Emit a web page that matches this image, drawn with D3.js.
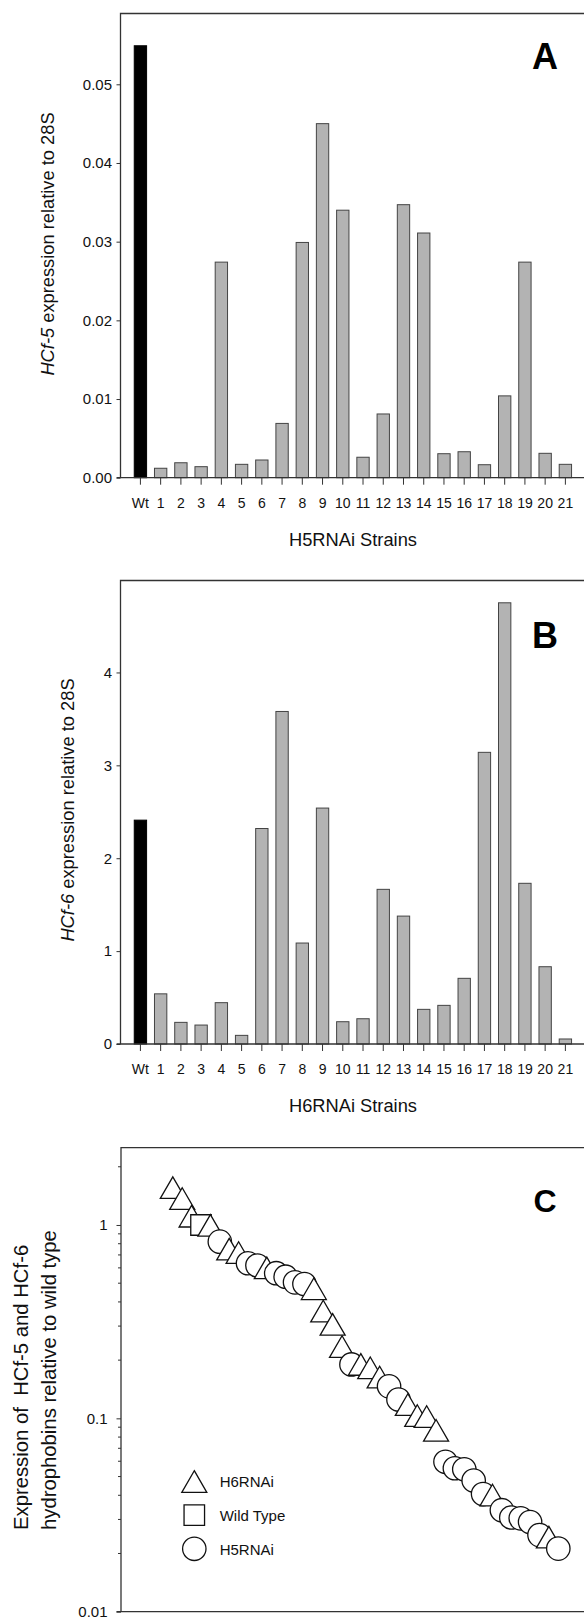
<!DOCTYPE html>
<html>
<head>
<meta charset="utf-8">
<script src="https://cdn.jsdelivr.net/npm/d3@7"></script>
<style>
  body { margin: 0; background: #fff; }
  svg { display: block; font-family: "Liberation Sans", Arial, sans-serif; }
</style>
</head>
<body>
<svg id="chart" width="584" height="1617"></svg>
<script>
// ----- DATA -----
var strains = ["Wt", "1", "2", "3", "4", "5", "6", "7", "8", "9", "10",
               "11", "12", "13", "14", "15", "16", "17", "18", "19", "20", "21"];

// panel A: HCf-5 expression relative to 28S (H5RNAi strains)
var h5Expr = [0.0549, 0.0012, 0.0019, 0.0014, 0.0274, 0.0017, 0.00225, 0.0069,
              0.0299, 0.0450, 0.0340, 0.0026, 0.0081, 0.0347, 0.0311, 0.00305,
              0.0033, 0.00165, 0.0104, 0.0274, 0.0031, 0.0017];
var aTicks = [0, 0.01, 0.02, 0.03, 0.04, 0.05];

// panel B: HCf-6 expression relative to 28S (H6RNAi strains)
var h6Expr = [2.41, 0.54, 0.233, 0.204, 0.445, 0.093, 2.32, 3.58,
              1.087, 2.54, 0.24, 0.272, 1.665, 1.377, 0.373, 0.416,
              0.707, 3.14, 4.75, 1.73, 0.832, 0.054];
var bTicks = [0, 1, 2, 3, 4];

// panel C: expression relative to wild type, in rank order
var cGroups = ["H6", "H6", "H6", "WT", "H6", "H5", "H6", "H6", "H5", "H5",
               "H6", "H5", "H5", "H5", "H5", "H6", "H6", "H6", "H6", "H5",
               "H6", "H6", "H6", "H5", "H5", "H6", "H6", "H6", "H6", "H5",
               "H5", "H5", "H5", "H5", "H6", "H5", "H5", "H5", "H5", "H5",
               "H6", "H5"];
var cValues = [1.56, 1.37, 1.11, 1.0, 0.995, 0.82, 0.75, 0.72, 0.634, 0.617,
               0.60, 0.563, 0.540, 0.505, 0.495, 0.468, 0.359, 0.306, 0.235, 0.190,
               0.190, 0.1825, 0.1635, 0.1464, 0.1251, 0.1178, 0.1034, 0.1022, 0.0867, 0.0596,
               0.0552, 0.0545, 0.0477, 0.0406, 0.0401, 0.0335, 0.0307, 0.0304, 0.0291, 0.0249,
               0.0243, 0.0212];
var cTicks = [0.01, 0.1, 1];
var legendKeys = ["H6", "WT", "H5"];
var legendLabels = ["H6RNAi", "Wild Type", "H5RNAi"];

// ----- LAYOUT -----
var svg = d3.select("#chart");
var frameLeft = 120.5, frameRight = 584;
var ink = "#333";

var x = d3.scaleBand()
    .domain(strains)
    .range([130.3, 575.5])
    .paddingInner(0.39)
    .paddingOuter(0.195);

function barPanel(p) {
    var g = svg.append("g");
    var y = d3.scaleLinear().domain([0, p.yMax]).range([p.bottom, p.top]);

    // left + top frame
    g.append("path")
        .attr("d", "M" + frameLeft + "," + p.bottom + "V" + p.top + "H" + frameRight)
        .attr("fill", "none")
        .attr("stroke", ink)
        .attr("stroke-width", 1.3);

    g.selectAll("rect.bar").data(p.values).join("rect")
        .attr("class", "bar")
        .attr("x", function(d, i) { return x(strains[i]); })
        .attr("width", x.bandwidth())
        .attr("y", function(d) { return y(d); })
        .attr("height", function(d) { return p.bottom - y(d); })
        .attr("fill", function(d, i) { return i == 0 ? "#000" : "#b3b3b3"; })
        .attr("stroke", function(d, i) { return i == 0 ? "#000" : "#444"; })
        .attr("stroke-width", 1);

    var ya = g.append("g")
        .attr("transform", "translate(" + frameLeft + ",0)")
        .call(d3.axisLeft(y).tickValues(p.ticks).tickFormat(p.fmt).tickSize(4).tickPadding(4.5));
    ya.select(".domain").remove();
    ya.attr("font-size", 15).attr("font-family", null).attr("color", ink);
    ya.selectAll("text").attr("fill", "#111");

    var xa = g.append("g")
        .attr("transform", "translate(0," + p.bottom + ")")
        .call(d3.axisBottom(x).tickSize(7).tickPadding(13.5).tickSizeOuter(0));
    xa.select(".domain").remove();
    xa.attr("font-size", 14).attr("font-family", null).attr("color", ink);
    xa.selectAll("text").attr("fill", "#111");

    g.append("line")
        .attr("x1", 116.6).attr("x2", frameRight)
        .attr("y1", p.bottom).attr("y2", p.bottom)
        .attr("stroke", ink).attr("stroke-width", 1.3);

    var yl = g.append("text")
        .attr("transform", "translate(" + p.labelX + "," + p.labelY + ") rotate(-90)")
        .attr("text-anchor", "middle")
        .attr("font-size", 18.3)
        .attr("fill", "#111");
    yl.append("tspan").attr("font-style", "italic").text(p.gene);
    yl.append("tspan").text(" expression relative to 28S");

    g.append("text")
        .attr("x", 353).attr("y", p.bottom + 67.8)
        .attr("text-anchor", "middle")
        .attr("font-size", 18.3)
        .attr("fill", "#111")
        .text(p.title);

    g.append("text")
        .attr("x", 545).attr("y", p.letterY)
        .attr("text-anchor", "middle")
        .attr("font-size", 36)
        .attr("font-weight", "bold")
        .attr("fill", "#000")
        .text(p.letter);
}

barPanel({
    values: h5Expr, top: 13.5, bottom: 477.7, yMax: 0.059,
    ticks: aTicks, fmt: d3.format(".2f"),
    gene: "HCf-5", labelX: 53.5, labelY: 244,
    title: "H5RNAi Strains", letter: "A", letterY: 69.3
});

barPanel({
    values: h6Expr, top: 580.5, bottom: 1044, yMax: 4.99,
    ticks: bTicks, fmt: d3.format("d"),
    gene: "HCf-6", labelX: 74, labelY: 810,
    title: "H6RNAi Strains", letter: "B", letterY: 648.3
});

// ----- PANEL C -----
var cTop = 1147.7, cBottom = 1611.7, cLeft = 121;
var yC = d3.scaleLog().domain([0.01, 2.51]).range([cBottom, cTop]);
var xC = d3.scaleLinear().domain([0, cValues.length - 1]).range([172.8, 558.3]);

var gc = svg.append("g");
gc.append("path")
    .attr("d", "M" + cLeft + "," + cBottom + "V" + cTop + "H" + frameRight)
    .attr("fill", "none").attr("stroke", ink).attr("stroke-width", 1.3);
gc.append("line")
    .attr("x1", 116.5).attr("x2", frameRight)
    .attr("y1", cBottom).attr("y2", cBottom)
    .attr("stroke", ink).attr("stroke-width", 1.3);

var yca = gc.append("g")
    .attr("transform", "translate(" + cLeft + ",0)")
    .call(d3.axisLeft(yC).tickValues(cTicks).tickFormat(d3.format("~g")).tickSize(4.5).tickPadding(9));
yca.select(".domain").remove();
yca.attr("font-size", 15).attr("font-family", null).attr("color", ink);
yca.selectAll("text").attr("fill", "#111");

// minor log ticks
var minor = yC.ticks().filter(function(t) { return cTicks.indexOf(t) < 0; });
gc.selectAll("line.minor").data(minor).join("line")
    .attr("class", "minor")
    .attr("x1", cLeft - 3).attr("x2", cLeft)
    .attr("y1", function(d) { return yC(d); })
    .attr("y2", function(d) { return yC(d); })
    .attr("stroke", ink).attr("stroke-width", 1);

function shape(key) {
    var p = d3.path();
    if (key == "H6") {
        var w = 25, h = 21.6;
        p.moveTo(0, -h / 2); p.lineTo(w / 2, h / 2); p.lineTo(-w / 2, h / 2); p.closePath();
    } else if (key == "WT") {
        var s = 20.5;
        p.rect(-s / 2, -s / 2, s, s);
    } else {
        p.moveTo(11.7, 0); p.arc(0, 0, 11.7, 0, 2 * Math.PI);
    }
    return p.toString();
}

gc.selectAll("path.pt").data(cValues).join("path")
    .attr("class", "pt")
    .attr("d", function(d, i) { return shape(cGroups[i]); })
    .attr("transform", function(d, i) { return "translate(" + xC(i) + "," + yC(d) + ")"; })
    .attr("fill", "#fff")
    .attr("stroke", "#111")
    .attr("stroke-width", 1.3);

// legend
var ly = d3.scaleLinear().domain([0, 2]).range([1481.5, 1548.8]);
var leg = gc.selectAll("g.leg").data(legendKeys).join("g")
    .attr("class", "leg")
    .attr("transform", function(d, i) { return "translate(194.3," + ly(i) + ")"; });
leg.append("path")
    .attr("d", function(d) { return shape(d); })
    .attr("fill", "#fff").attr("stroke", "#111").attr("stroke-width", 1.3);
leg.append("text")
    .attr("x", 25.4).attr("y", 5.8)
    .attr("font-size", 15)
    .attr("fill", "#111")
    .text(function(d, i) { return legendLabels[i]; });

// two-line y label, left aligned from the bottom
var cl = gc.append("text")
    .attr("transform", "translate(27.5,1530) rotate(-90)")
    .attr("font-size", 20.3)
    .attr("fill", "#111")
    .style("white-space", "pre");
cl.append("tspan").attr("x", 0).attr("y", 0).text("Expression of  HCf-5 and HCf-6");
cl.append("tspan").attr("x", 0).attr("y", 28.2).text("hydrophobins relative to wild type");

gc.append("text")
    .attr("x", 545).attr("y", 1211.7)
    .attr("text-anchor", "middle")
    .attr("font-size", 32)
    .attr("font-weight", "bold")
    .attr("fill", "#000")
    .text("C");
</script>
</body>
</html>
